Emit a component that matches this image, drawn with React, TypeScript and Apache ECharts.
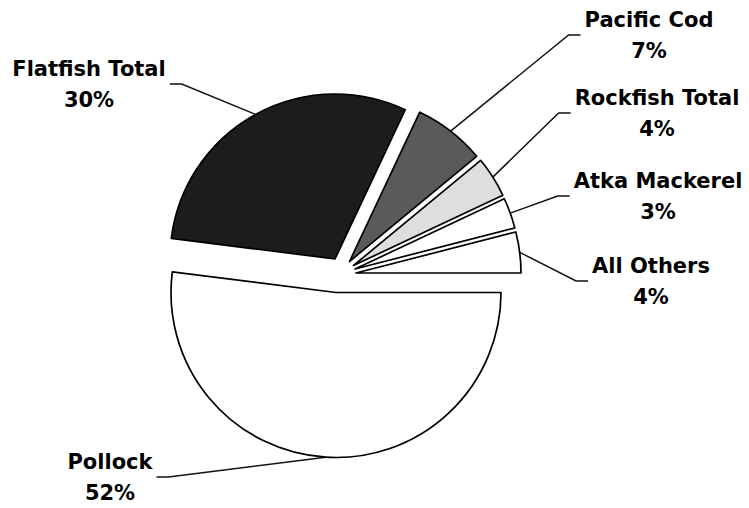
import React, { useEffect, useRef } from 'react';
import * as echarts from 'echarts';

// Data
const categories = ['Pollock', 'Flatfish Total', 'Pacific Cod', 'Rockfish Total', 'Atka Mackerel', 'All Others'];
const shares = [52, 30, 7, 4, 3, 4];

// Styles / layout (not data)
const sliceColors = ['#ffffff', '#1c1c1c', '#5a5a5a', '#dedede', '#ffffff', '#ffffff'];
const pieCenter: [number, number] = [338.5, 275];
const pieRadius = 165;
// explosion offset of each slice from the common pie centre
const sliceOffsets: [number, number][] = [
  [-2.5, 17.5],
  [-3.5, -16],
  [11, -13.5],
  [15, -9.5],
  [16.5, -6],
  [17.5, -2],
];
// centre of each label block
const labelCenters: [number, number][] = [
  [110, 477],
  [89, 84],
  [649, 35],
  [657, 113],
  [658, 196],
  [651, 281],
];

export default function App() {
  const ref = useRef<HTMLDivElement>(null);
  useEffect(() => {
    if (!ref.current) return;
    const chart = echarts.init(ref.current, undefined, { renderer: 'svg' });
    const series = categories.map((_, k) => ({
      type: 'pie',
      silent: true,
      center: [pieCenter[0] + sliceOffsets[k][0], pieCenter[1] + sliceOffsets[k][1]],
      radius: pieRadius,
      startAngle: 0,
      clockwise: true,
      avoidLabelOverlap: false,
      emphasis: { disabled: true },
      data: categories.map((name, i) => {
        const on = i === k;
        return {
          name,
          value: shares[i],
          itemStyle: on
            ? { color: sliceColors[i], borderColor: '#000', borderWidth: 1.7 }
            : { color: 'transparent', borderWidth: 0 },
          label: { show: on },
          labelLine: { show: on },
        };
      }),
      label: {
        position: 'outside',
        formatter: '{b}\n{c}%',
        fontFamily: 'DejaVu Sans',
        fontWeight: 'bold',
        fontSize: 21,
        lineHeight: 31,
        color: '#000',
        align: 'center',
        padding: [0, 4],
      },
      labelLine: {
        length: 20,
        length2: 12,
        lineStyle: { color: '#111', width: 1.5 },
      },
      labelLayout: (p: any) => {
        const [x, y] = labelCenters[p.dataIndex];
        return { x, y, align: 'center', verticalAlign: 'middle' };
      },
    }));
    chart.setOption({
      animation: false,
      backgroundColor: '#ffffff',
      series,
    });
    return () => chart.dispose();
  }, []);
  return <div ref={ref} style={{ position: 'fixed', left: 0, top: 0, width: 749, height: 508 }} />;
}
